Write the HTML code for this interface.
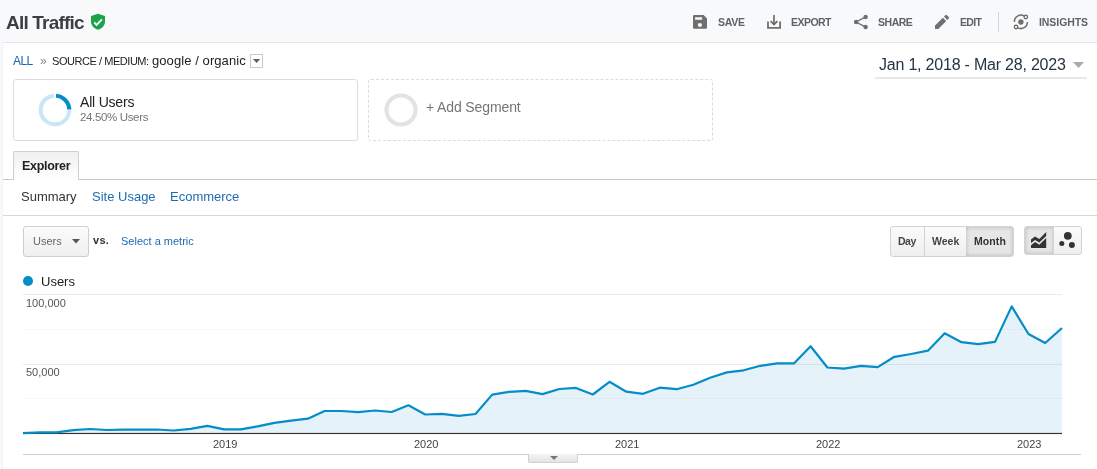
<!DOCTYPE html>
<html><head><meta charset="utf-8">
<style>
*{margin:0;padding:0;box-sizing:border-box}
html,body{width:1097px;height:469px;overflow:hidden;background:#f8f9fa;font-family:"Liberation Sans",sans-serif}
.a{position:absolute;white-space:nowrap}
#panel{position:absolute;left:2px;top:42px;width:1095px;height:427px;background:#fff;border-top:1px solid #e6e7e8;border-left:1px solid #f1f2f3}
.tb{font-size:10.5px;font-weight:bold;color:#5f6368}
.a{will-change:transform}
</style></head><body>
<!-- header -->
<div class="a" style="left:6px;top:12px;font-size:19px;font-weight:bold;color:#3c4043;letter-spacing:-0.8px">All Traffic</div>
<svg class="a" style="left:90px;top:13px" width="16" height="18" viewBox="0 0 16 18">
<path d="M8 0.7 L15 3.1 V8.5 C15 12.6 12 15.6 8 16.8 C4 15.6 1 12.6 1 8.5 V3.1 Z" fill="#1ba34a"/>
<path d="M4.2 9.3 L6.6 11.9 L11.9 6.3" stroke="#fff" stroke-width="1.8" fill="none"/>
</svg>
<!-- toolbar -->
<svg class="a" style="left:0;top:0" width="1097" height="42">
<g fill="#6f6f6f">
<path fill-rule="evenodd" d="M693 16.2Q693 15 694.2 15H703.6L707 18.4V27.5Q707 28.8 705.7 28.8H694.3Q693 28.8 693 27.5ZM695.1 17.2H702.1V19.7H695.1ZM702 25A2.1 2.1 0 1 0 697.8 25A2.1 2.1 0 1 0 702 25Z"/>
<circle cx="865.6" cy="16.9" r="2.25"/><circle cx="856.1" cy="22" r="2.25"/><circle cx="865.6" cy="27.1" r="2.25"/>
<path d="M935 25.6V28.9H938.3L946.2 21L942.9 17.7ZM944 16.6L947.3 19.9L948.9 18.3Q949.4 17.8 948.9 17.3L946.6 15Q946.1 14.5 945.6 15Z"/>
<circle cx="1020.9" cy="22" r="2.7"/>
</g>
<g fill="none" stroke="#6f6f6f">
<path d="M768 21.5V27.8H780.1V21.5" stroke-width="1.8"/>
<path d="M774 15V24.5M770.6 21.2L774 24.6L777.4 21.2" stroke-width="1.7"/>
<path d="M865.6 16.9L856.1 22L865.6 27.1" stroke-width="1.3"/>
<path d="M1024.3 16.1A6.5 6.5 0 0 0 1014.4 22M1017.5 27.6A6.5 6.5 0 0 0 1027.4 22" stroke-width="1.5"/>
<circle cx="1025.8" cy="17" r="1.75" stroke-width="1.3"/>
<circle cx="1016" cy="27" r="1.75" stroke-width="1.3"/>
</g>
<rect x="998" y="12" width="1" height="20" fill="#d6d6d6"/>
</svg>
<div class="a tb" style="left:718px;top:16px;letter-spacing:-0.3px">SAVE</div>
<div class="a tb" style="left:790.5px;top:16px;letter-spacing:-0.54px">EXPORT</div>
<div class="a tb" style="left:878px;top:16px;letter-spacing:-0.47px">SHARE</div>
<div class="a tb" style="left:959.5px;top:16px;letter-spacing:-0.67px">EDIT</div>
<div class="a tb" style="left:1038.5px;top:16px;letter-spacing:-0.07px">INSIGHTS</div>

<div id="panel"></div>
<!-- breadcrumb -->
<div class="a" style="left:13px;top:54px;font-size:12px;color:#1a66b3;letter-spacing:-0.6px">ALL</div>
<div class="a" style="left:40px;top:54px;font-size:12px;color:#888">&raquo;</div>
<div class="a" style="left:52px;top:55px;font-size:11px;color:#222;letter-spacing:-0.45px">SOURCE / MEDIUM:</div>
<div class="a" style="left:152px;top:53px;font-size:13px;color:#222;letter-spacing:0.08px">google / organic</div>
<div class="a" style="left:250px;top:54px;width:13px;height:14px;border:1px solid #c9c9c9;background:#fff"></div>
<svg class="a" style="left:252px;top:58px" width="9" height="6"><path d="M1 1h7.2l-3.6 4z" fill="#606060"/></svg>

<!-- segments -->
<div class="a" style="left:13px;top:79px;width:345px;height:62px;border:1px solid #dadce0;border-radius:3px;background:#fff"></div>
<svg class="a" style="left:38px;top:93px" width="34" height="34" viewBox="0 0 34 34">
<path d="M31.3 17.25 A14.3 14.3 0 1 1 16 2.73" fill="none" stroke="#c8e6f5" stroke-width="4.1"/>
<path d="M18 2.73 A14.3 14.3 0 0 1 31.29 16.5" fill="none" stroke="#058dc7" stroke-width="4.1"/>
</svg>
<div class="a" style="left:80px;top:94px;font-size:14px;color:#202124;letter-spacing:-0.2px">All Users</div>
<div class="a" style="left:80px;top:111px;font-size:11.5px;color:#757575;letter-spacing:-0.35px">24.50% Users</div>

<div class="a" style="left:368px;top:79px;width:345px;height:62px;border:1px dashed #dcdcdc;border-radius:3px"></div>
<svg class="a" style="left:384px;top:93px" width="34" height="34" viewBox="0 0 34 34"><circle cx="17" cy="17" r="14.5" fill="none" stroke="#e3e3e3" stroke-width="4.2"/></svg>
<div class="a" style="left:426px;top:99px;font-size:14px;color:#757575;letter-spacing:-0.12px">+ Add Segment</div>

<!-- date -->
<div class="a" style="left:878.5px;top:56px;font-size:16px;color:#253544;letter-spacing:-0.21px">Jan 1, 2018 - Mar 28, 2023</div>
<svg class="a" style="left:1073px;top:62px" width="12" height="7"><path d="M0 0h11l-5.5 6z" fill="#aaa"/></svg>
<div class="a" style="left:875px;top:77px;width:212px;height:2px;background:#e8e8e8"></div>

<!-- explorer tab -->
<div class="a" style="left:3px;top:179px;width:1094px;height:1px;background:#c8c8c8"></div>
<div class="a" style="left:13px;top:151px;width:66px;height:29px;border:1px solid #cfcfcf;border-bottom:none;border-radius:2px 2px 0 0;background:linear-gradient(#f0f0f0,#fff)"></div>
<div class="a" style="left:22px;top:159px;font-size:12.5px;font-weight:bold;color:#222;letter-spacing:-0.3px">Explorer</div>
<div class="a" style="left:21px;top:189px;font-size:13px;color:#333">Summary</div>
<div class="a" style="left:92.4px;top:189px;font-size:13px;color:#1f6bb5">Site Usage</div>
<div class="a" style="left:170px;top:189px;font-size:13px;color:#1f6bb5">Ecommerce</div>
<div class="a" style="left:3px;top:215px;width:1094px;height:1px;background:#d6d6d6"></div>

<!-- metric -->
<div class="a" style="left:23px;top:226px;width:66px;height:31px;border:1px solid #cfcfcf;border-radius:3px;background:linear-gradient(#fbfbfb,#efefef)"></div>
<div class="a" style="left:33px;top:235px;font-size:11px;color:#666">Users</div>
<svg class="a" style="left:72px;top:239px" width="8" height="5"><path d="M0 0h8l-4 4.5z" fill="#555"/></svg>
<div class="a" style="left:93px;top:234px;font-size:11px;font-weight:bold;color:#333;letter-spacing:0.3px">vs.</div>
<div class="a" style="left:121px;top:235px;font-size:11px;color:#1f6bb5">Select a metric</div>

<!-- day/week/month -->
<div class="a" style="left:890px;top:226px;width:124px;height:31px;border:1px solid #d3d3d3;border-radius:3px;background:linear-gradient(#fbfbfb,#efefef);overflow:hidden">
  <div class="a" style="left:33px;top:0;width:1px;height:29px;background:#d3d3d3"></div>
  <div class="a" style="left:75px;top:0;width:47px;height:29px;background:#e6e6e6;box-shadow:inset 0 0 4px rgba(0,0,0,.22)"></div>
</div>
<div class="a" style="left:898px;top:235px;font-size:10.5px;font-weight:bold;color:#444;letter-spacing:-0.5px">Day</div>
<div class="a" style="left:932px;top:235px;font-size:10.5px;font-weight:bold;color:#444">Week</div>
<div class="a" style="left:974px;top:235px;font-size:10.5px;font-weight:bold;color:#333;letter-spacing:0.1px">Month</div>

<div class="a" style="left:1024px;top:226px;width:58px;height:29px;border:1px solid #d3d3d3;border-radius:3px;background:linear-gradient(#fbfbfb,#efefef);overflow:hidden">
  <div class="a" style="left:0;top:0;width:29px;height:27px;background:#e6e6e6;box-shadow:inset 0 0 4px rgba(0,0,0,.22)"></div>
  <div class="a" style="left:28px;top:0;width:1px;height:27px;background:#d3d3d3"></div>
</div>
<svg class="a" style="left:0;top:0" width="1097" height="469"><g fill="#333">
<path d="M1031 239.6L1035 236.4L1039.3 239L1046.2 232V235.9L1039.3 242.5L1035 239.9L1031 243Z"/>
<path d="M1031 248V245.3L1035 242.1L1039.3 244.8L1046.2 238.1V248Z"/>
<circle cx="1067.8" cy="235.8" r="3.9"/><circle cx="1061.8" cy="243.5" r="2.5"/><circle cx="1071.9" cy="244.9" r="3"/>
</g></svg>

<!-- legend -->
<div class="a" style="left:23px;top:276px;width:10px;height:10px;border-radius:50%;background:#058dc7"></div>
<div class="a" style="left:41px;top:274px;font-size:13px;color:#222">Users</div>

<!-- chart -->
<svg class="a" style="left:0;top:0" width="1097" height="469">
<path d="M23,433 L23.0,433.2 L39.8,432.3 L56.5,432.3 L73.3,430.2 L90.0,429.0 L106.8,430.0 L123.5,429.7 L140.3,429.7 L157.1,429.5 L173.8,430.5 L190.6,428.8 L207.3,425.8 L224.1,429.4 L240.9,429.4 L257.6,426.4 L274.4,422.8 L291.1,420.7 L307.9,418.7 L324.6,411.0 L341.4,411.0 L358.2,412.1 L374.9,410.5 L391.7,412.0 L408.4,405.3 L425.2,414.5 L442.0,413.8 L458.7,415.8 L475.5,414.0 L492.2,394.6 L509.0,391.9 L525.7,390.9 L542.5,394.1 L559.3,389.0 L576.0,387.9 L592.8,394.5 L609.5,381.8 L626.3,391.7 L643.0,393.8 L659.8,387.7 L676.6,389.2 L693.3,384.7 L710.1,377.7 L726.8,372.4 L743.6,370.3 L760.4,365.8 L777.1,363.4 L793.9,363.4 L810.6,346.2 L827.4,367.5 L844.1,368.7 L860.9,365.8 L877.7,367.1 L894.4,356.8 L911.2,354.0 L927.9,350.7 L944.7,333.3 L961.5,342.2 L978.2,344.2 L995.0,341.9 L1011.7,306.4 L1028.5,334.0 L1045.2,343.0 L1062.0,328.0 L1062,433 Z" fill="#e5f2fa"/>
<line x1="23" y1="294.5" x2="1062" y2="294.5" stroke="#000" stroke-opacity="0.08"/>
<line x1="23" y1="329.5" x2="1062" y2="329.5" stroke="#000" stroke-opacity="0.03"/>
<line x1="23" y1="364.5" x2="1062" y2="364.5" stroke="#000" stroke-opacity="0.08"/>
<line x1="23" y1="398.5" x2="1062" y2="398.5" stroke="#000" stroke-opacity="0.03"/>
<rect x="23" y="432.9" width="1039" height="1.15" fill="#333"/>
<polyline points="23.0,433.2 39.8,432.3 56.5,432.3 73.3,430.2 90.0,429.0 106.8,430.0 123.5,429.7 140.3,429.7 157.1,429.5 173.8,430.5 190.6,428.8 207.3,425.8 224.1,429.4 240.9,429.4 257.6,426.4 274.4,422.8 291.1,420.7 307.9,418.7 324.6,411.0 341.4,411.0 358.2,412.1 374.9,410.5 391.7,412.0 408.4,405.3 425.2,414.5 442.0,413.8 458.7,415.8 475.5,414.0 492.2,394.6 509.0,391.9 525.7,390.9 542.5,394.1 559.3,389.0 576.0,387.9 592.8,394.5 609.5,381.8 626.3,391.7 643.0,393.8 659.8,387.7 676.6,389.2 693.3,384.7 710.1,377.7 726.8,372.4 743.6,370.3 760.4,365.8 777.1,363.4 793.9,363.4 810.6,346.2 827.4,367.5 844.1,368.7 860.9,365.8 877.7,367.1 894.4,356.8 911.2,354.0 927.9,350.7 944.7,333.3 961.5,342.2 978.2,344.2 995.0,341.9 1011.7,306.4 1028.5,334.0 1045.2,343.0 1062.0,328.0" fill="none" stroke="#058dc7" stroke-width="2.2" stroke-linejoin="round"/>
<line x1="23" y1="454.5" x2="1081" y2="454.5" stroke="#cfcfcf"/>
</svg>
<div class="a" style="left:26px;top:297px;font-size:11px;color:#555">100,000</div>
<div class="a" style="left:26px;top:366px;font-size:11px;color:#555">50,000</div>
<div class="a" style="left:212.6px;top:438px;font-size:11px;color:#444">2019</div>
<div class="a" style="left:413.6px;top:438px;font-size:11px;color:#444">2020</div>
<div class="a" style="left:614.6px;top:438px;font-size:11px;color:#444">2021</div>
<div class="a" style="left:815.6px;top:438px;font-size:11px;color:#444">2022</div>
<div class="a" style="left:1016.6px;top:438px;font-size:11px;color:#444">2023</div>
<!-- scroll handle -->
<div class="a" style="left:528px;top:454px;width:50px;height:9px;border:1px solid #d0d0d0;border-top:none;border-radius:0 0 2px 2px;background:linear-gradient(#f4f4f4,#e4e4e4)"></div>
<svg class="a" style="left:549.5px;top:456px" width="8" height="5"><path d="M0 0h8l-4 4z" fill="#777"/></svg>
</body></html>
